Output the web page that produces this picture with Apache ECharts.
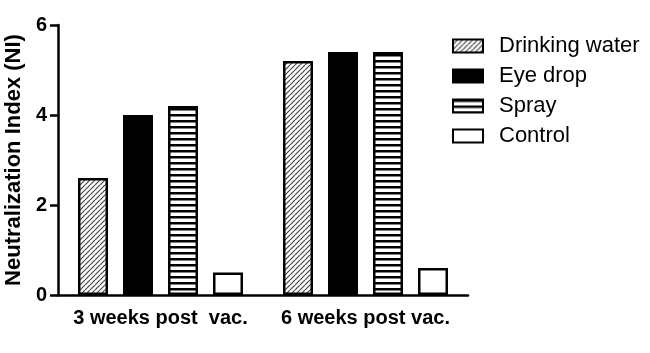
<!DOCTYPE html>
<html>
<head>
<meta charset="utf-8">
<script src="https://cdn.jsdelivr.net/npm/echarts@6/dist/echarts.min.js"></script>
<style>
  html, body { margin: 0; padding: 0; background: #fff; }
  #chart { width: 650px; height: 353px; }
</style>
</head>
<body>
<div id="chart"></div>
<script>
const categories = ['3 weeks post  vac.', '6 weeks post vac.']
const drinkingWater = [2.6, 5.2]
const eyeDrop = [4.0, 5.4]
const spray = [4.2, 5.4]
const control = [0.5, 0.6]
const yTicks = [0, 2, 4, 6]

const font = 'Arial, "Liberation Sans", sans-serif'

// hatch patterns drawn on small canvases
const makeDiagonal = () => {
  const c = document.createElement('canvas')
  c.width = 5; c.height = 5
  const ctx = c.getContext('2d')
  ctx.fillStyle = '#fff'
  ctx.fillRect(0, 0, 5, 5)
  ctx.strokeStyle = '#444'
  ctx.lineWidth = 1.2
  ctx.beginPath()
  for (let k = -5; k <= 10; k += 5) {
    ctx.moveTo(k, 5)
    ctx.lineTo(k + 5, 0)
  }
  ctx.stroke()
  return c
}

const makeHorizontal = () => {
  const c = document.createElement('canvas')
  c.width = 4; c.height = 6
  const ctx = c.getContext('2d')
  ctx.fillStyle = '#fff'
  ctx.fillRect(0, 0, 4, 6)
  ctx.fillStyle = '#000'
  ctx.fillRect(0, 0, 4, 2.5)
  return c
}

const border = { borderColor: '#000', borderWidth: 2.5 }

const chart = echarts.init(document.getElementById('chart'))

const barSeries = (name, data, fill) => ({
  name,
  type: 'bar',
  data,
  barWidth: 30,
  barGap: '50%',
  itemStyle: Object.assign({ color: fill }, border)
})

chart.setOption({
  animation: false,
  backgroundColor: '#fff',
  grid: { left: 58, right: 182, top: 25, bottom: 58, outerBoundsMode: 'none' },
  legend: {
    orient: 'vertical',
    left: 447,
    top: 30,
    itemWidth: 30,
    itemHeight: 13,
    itemGap: 8,
    icon: 'rect',
    textStyle: { fontFamily: font, fontSize: 22, color: '#000', padding: [0, 0, 0, 11] }
  },
  xAxis: {
    type: 'category',
    data: categories,
    axisLine: { lineStyle: { color: '#000', width: 2.5 } },
    axisTick: { alignWithLabel: true, length: 7, lineStyle: { color: '#000', width: 2.5 } },
    axisLabel: { interval: 0, fontFamily: font, fontSize: 20, fontWeight: 'bold', color: '#000', margin: 13 }
  },
  yAxis: {
    type: 'value',
    min: yTicks[0],
    max: yTicks[yTicks.length - 1],
    interval: 2,
    name: 'Neutralization Index (NI)',
    nameLocation: 'middle',
    nameGap: 30,
    nameTextStyle: { fontFamily: font, fontSize: 22, fontWeight: 'bold', color: '#000' },
    axisLine: { show: true, lineStyle: { color: '#000', width: 2.5 } },
    axisTick: { show: true, length: 8, lineStyle: { color: '#000', width: 2.5 } },
    axisLabel: { fontFamily: font, fontSize: 20, fontWeight: 'bold', color: '#000', margin: 11 },
    splitLine: { show: false }
  },
  series: [
    barSeries('Drinking water', drinkingWater, { image: makeDiagonal(), repeat: 'repeat' }),
    barSeries('Eye drop', eyeDrop, '#000'),
    barSeries('Spray', spray, { image: makeHorizontal(), repeat: 'repeat' }),
    barSeries('Control', control, '#fff')
  ]
})
</script>
</body>
</html>
